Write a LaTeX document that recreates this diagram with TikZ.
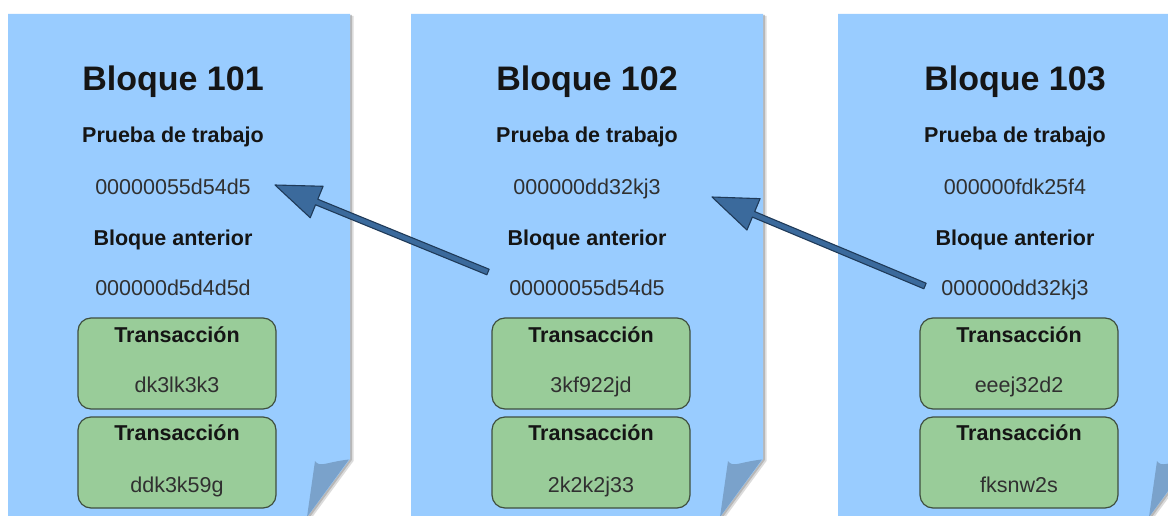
\documentclass[tikz,border=0pt]{standalone}
\usepackage{fontspec}
\setmainfont{Liberation Sans}
\usetikzlibrary{calc}

\definecolor{pageblue}{HTML}{99CCFF}
\definecolor{flapblue}{HTML}{7AA2CB}
\definecolor{shadowgray}{HTML}{9A9A9A}
\definecolor{txgreen}{HTML}{99CC99}
\definecolor{txborder}{HTML}{3F4F3F}
\definecolor{arrowfill}{HTML}{3B6A9C}
\definecolor{arrowline}{HTML}{1F3A58}
\definecolor{inktext}{HTML}{151515}
\definecolor{hextext}{HTML}{303030}

\tikzset{
  blocktitle/.style={font=\fontsize{34}{40}\selectfont\bfseries, text=inktext, anchor=base, inner sep=0pt},
  fieldname/.style={font=\fontsize{21.5}{26}\selectfont\bfseries, text=inktext, anchor=base, inner sep=0pt},
  hashval/.style={font=\fontsize{21.5}{26}\selectfont, text=hextext, anchor=base, inner sep=0pt},
  txbox/.style={draw=txborder, fill=txgreen, line width=1.2pt, rounded corners=13pt,
    minimum width=198pt, minimum height=91pt, inner sep=0pt},
  pagesheet/.style={fill=pageblue},
  pageflap/.style={fill=flapblue},
  arrowbody/.style={fill=arrowfill, draw=arrowline, line width=1.1pt, line join=round},
}

% block arrow from #1 (tail) to #2 (tip)
\newcommand\blockarrow[2]{%
  \coordinate (#2-base) at ($(#2)!45pt!(#1)$);
  \filldraw[arrowbody] (#2)
    -- ($(#2-base)!17pt!90:(#1)$)
    -- ($(#2-base)!3pt!90:(#1)$)
    -- ($(#1)!3pt!-90:(#2-base)$)
    -- ($(#1)!3pt!90:(#2-base)$)
    -- ($(#2-base)!3pt!-90:(#1)$)
    -- ($(#2-base)!17pt!-90:(#1)$)
    -- cycle;
}

\begin{document}
\begin{tikzpicture}[x=1pt, y=-1pt]
  \useasboundingbox (0,0) rectangle (1168,516);
  \clip (0,0) rectangle (1168,516);
  \fill[white] (0,0) rectangle (1168,516);

  \foreach \p/\l/\r/\c/\n/\pw/\pv/\ta/\tb in {
      b1/8/350/173/101/00000055d54d5/000000d5d4d5d/dk3lk3k3/ddk3k59g,
      b2/411/763/587/102/000000dd32kj3/00000055d54d5/3kf922jd/2k2k2j33,
      b3/838/1192/1015/103/000000fdk25f4/000000dd32kj3/eeej32d2/fksnw2s} {
    % soft shadow on the right side of the sheet
    \fill[shadowgray, opacity=0.35] (\l+3,16) -- (\r+3.5,16) -- (\r+3.5,461) -- (\r-45,527) -- (\l+3,527) -- cycle;
    \fill[shadowgray, opacity=0.55] (\l+1.5,15) -- (\r+1.8,15) -- (\r+1.8,460) -- (\r-46,525) -- (\l+1.5,525) -- cycle;
    % sheet with cut corner
    \fill[pagesheet] (\l,14) -- (\r,14) -- (\r,459) -- (\r-48,524) -- (\l,524) -- cycle;
    % folded flap
    \fill[pageflap] (\r-35,461) .. controls (\r-30,468) and (\r-24,462) .. (\r-1,459.5)
      -- (\r-43,517) -- cycle;

    % header texts
    \node[blocktitle] (\p-title) at (\c,91) {Bloque \n};
    \node[fieldname] (\p-powlabel) at (\c,143) {Prueba de trabajo};
    \node[hashval] (\p-pow) at (\c,195) {\pw};
    \node[fieldname] (\p-prevlabel) at (\c,245) {Bloque anterior};
    \node[hashval] (\p-prev) at (\c,295) {\pv};

    % transactions
    \node[txbox] (\p-tx1) at (\c+4,363.5) {};
    \node[fieldname] (\p-tx1name) at (\c+4,342) {Transacción};
    \node[hashval] (\p-tx1val) at (\c+4,392) {\ta};
    \node[txbox] (\p-tx2) at (\c+4,462.5) {};
    \node[fieldname] (\p-tx2name) at (\c+4,440) {Transacción};
    \node[hashval] (\p-tx2val) at (\c+4,492) {\tb};
  }

  % links from each block's previous hash to the earlier block's proof of work
  \coordinate (link1tail) at (488,272);
  \coordinate (link1tip) at (275,185);
  \coordinate (link2tail) at (925,286);
  \coordinate (link2tip) at (712,197);
  \blockarrow{link1tail}{link1tip}
  \blockarrow{link2tail}{link2tip}
\end{tikzpicture}
\end{document}
